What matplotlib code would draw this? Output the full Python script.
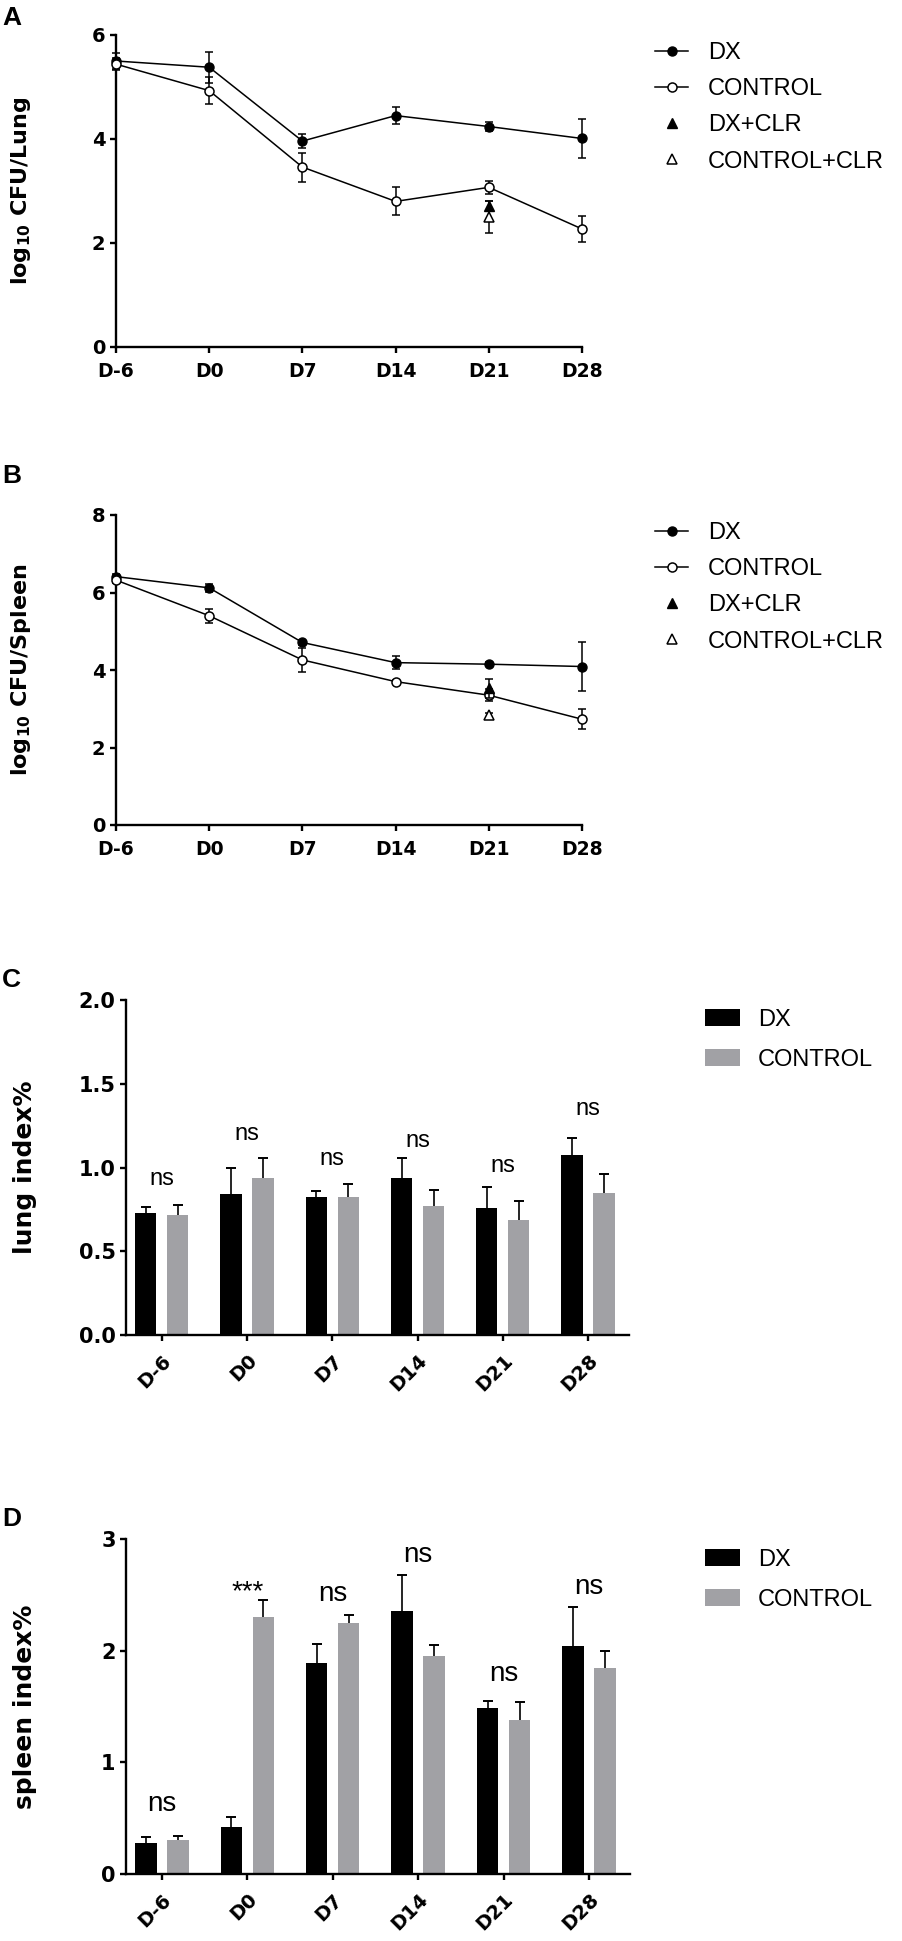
import matplotlib
matplotlib.use('Agg')
import matplotlib.pyplot as plt
import numpy as np
from matplotlib.lines import Line2D
from matplotlib.patches import Patch

plt.rcParams['font.family'] = ['Liberation Sans', 'DejaVu Sans']
plt.rcParams['mathtext.fontset'] = 'custom'
plt.rcParams['mathtext.rm'] = 'DejaVu Sans:bold'
plt.rcParams['mathtext.default'] = 'rm'

# ---------------- data ----------------
days = ['D-6', 'D0', 'D7', 'D14', 'D21', 'D28']

lung_dx = [5.50, 5.38, 3.96, 4.45, 4.24, 4.01]
lung_dx_err = [0.15, 0.30, 0.13, 0.16, 0.08, 0.38]
lung_ctrl = [5.44, 4.93, 3.46, 2.80, 3.07, 2.27]
lung_ctrl_err = [0.12, 0.26, 0.28, 0.27, 0.12, 0.25]
clr_day = ['D21']
lung_dxclr = [2.72]
lung_dxclr_err = [0.08]
lung_ctrlclr = [2.50]
lung_ctrlclr_err = [0.30]

spleen_dx = [6.41, 6.12, 4.71, 4.19, 4.15, 4.09]
spleen_dx_err = [0.08, 0.10, 0.06, 0.17, 0.05, 0.62]
spleen_ctrl = [6.32, 5.40, 4.26, 3.70, 3.35, 2.73]
spleen_ctrl_err = [0.08, 0.18, 0.30, 0.05, 0.15, 0.26]
spleen_dxclr = [3.53]
spleen_dxclr_err = [0.25]
spleen_ctrlclr = [2.84]
spleen_ctrlclr_err = [0.06]

lung_idx_dx = [0.729, 0.842, 0.826, 0.936, 0.759, 1.076]
lung_idx_dx_err = [0.034, 0.156, 0.032, 0.122, 0.127, 0.102]
lung_idx_ctrl = [0.717, 0.940, 0.826, 0.772, 0.684, 0.846]
lung_idx_ctrl_err = [0.061, 0.118, 0.076, 0.096, 0.114, 0.116]
lung_sig = ['ns', 'ns', 'ns', 'ns', 'ns', 'ns']
lung_sig_y = [0.934, 1.20, 1.05, 1.156, 1.01, 1.35]

spleen_idx_dx = [0.279, 0.417, 1.89, 2.357, 1.49, 2.04]
spleen_idx_dx_err = [0.055, 0.093, 0.17, 0.323, 0.056, 0.35]
spleen_idx_ctrl = [0.301, 2.303, 2.248, 1.954, 1.376, 1.848]
spleen_idx_ctrl_err = [0.042, 0.153, 0.07, 0.096, 0.16, 0.153]
spleen_sig = ['ns', '***', 'ns', 'ns', 'ns', 'ns']
spleen_sig_y = [0.63, 2.52, 2.504, 2.856, 1.795, 2.57]

GREY = '#a1a1a5'
W, H = 902, 1941
TICKFONT = 'DejaVu Sans'

fig = plt.figure(figsize=(W / 100, H / 100), dpi=100)


def rect(x0, x1, ytop, ybot):
    return [x0 / W, 1 - ybot / H, (x1 - x0) / W, (ybot - ytop) / H]


def style_axes(ax, ysize, xsize):
    for s in ['top', 'right']:
        ax.spines[s].set_visible(False)
    for s in ['left', 'bottom']:
        ax.spines[s].set_linewidth(1.7)
    ax.tick_params(axis='both', which='major', length=4.5, width=1.7, direction='out')
    ax.tick_params(axis='y', pad=3)
    for lab in ax.get_yticklabels():
        lab.set_fontweight('bold')
        lab.set_fontfamily(TICKFONT)
        lab.set_fontsize(ysize)
    for lab in ax.get_xticklabels():
        lab.set_fontweight('bold')
        lab.set_fontfamily(TICKFONT)
        lab.set_fontsize(xsize)


MS = 6.5
CAP = 3.2
LW = 1.1


def line_panel(ax, dx, dxe, ct, cte, cdx, cdxe, cct, ccte, ymax, yticks, ylabel):
    x = np.arange(len(days))
    xc = np.array([days.index(d) for d in clr_day])
    ax.errorbar(x, dx, yerr=dxe, color='k', marker='o', ms=MS, mfc='k', mec='k',
                lw=LW, elinewidth=LW, capsize=CAP, capthick=LW, clip_on=False, zorder=3)
    ax.errorbar(x, ct, yerr=cte, color='k', marker='o', ms=MS, mfc='white', mec='k',
                mew=1.1, lw=LW, elinewidth=LW, capsize=CAP, capthick=LW, clip_on=False, zorder=3)
    ax.errorbar(xc, cct, yerr=ccte, color='k', marker='^', ms=MS, mfc='white', mec='k',
                mew=1.1, ls='none', elinewidth=LW, capsize=CAP, capthick=LW, zorder=4)
    ax.errorbar(xc, cdx, yerr=cdxe, color='k', marker='^', ms=MS, mfc='k', mec='k',
                ls='none', elinewidth=LW, capsize=CAP, capthick=LW, zorder=5)
    ax.set_xlim(0, len(days) - 1)
    ax.set_ylim(0, ymax)
    ax.set_yticks(yticks)
    ax.set_xticks(x)
    ax.set_xticklabels(days)
    style_axes(ax, 14, 13.5)
    ax.tick_params(axis='x', pad=6)
    ax.set_ylabel(ylabel, fontsize=16, fontweight='bold', fontfamily=TICKFONT)
    ax.yaxis.set_label_coords(-0.178, 0.5)


def bar_panel(ax, dx, dxe, ct, cte, sig, sigy, ymax, yticks, yticklabels, ylabel, sigsize):
    x = np.arange(len(days))
    off, bw = 0.1875, 0.25
    for xs, vals, errs, col in [(x - off, dx, dxe, 'k'), (x + off, ct, cte, GREY)]:
        ax.bar(xs, vals, width=bw, color=col, edgecolor='none', zorder=2)
        tops = np.array(vals) + np.array(errs)
        ax.errorbar(xs, vals, yerr=[np.zeros(len(vals)), errs], fmt='none', ecolor='k',
                    elinewidth=1.2, capsize=0, zorder=1)
        ax.plot(xs, tops, ls='none', marker='_', ms=7, mew=1.4, color='k', zorder=1)
    for xi, s, yy in zip(x, sig, sigy):
        ax.text(xi, yy, s, ha='center', va='center', fontsize=sigsize)
    ax.set_xlim(-0.42, 5.48)
    ax.set_ylim(0, ymax)
    ax.set_yticks(yticks)
    ax.set_yticklabels(yticklabels)
    ax.set_xticks(x)
    ax.set_xticklabels(days, rotation=45, ha='right', va='top', rotation_mode='anchor')
    style_axes(ax, 15, 14)
    ax.tick_params(axis='x', pad=7)
    ax.set_ylabel(ylabel, fontsize=18, fontweight='bold', fontfamily=TICKFONT)
    ax.yaxis.set_label_coords(-0.177, 0.5)


axA = fig.add_axes(rect(116, 582, 35, 347))
line_panel(axA, lung_dx, lung_dx_err, lung_ctrl, lung_ctrl_err, lung_dxclr, lung_dxclr_err,
           lung_ctrlclr, lung_ctrlclr_err, 6, [0, 2, 4, 6], r'log$_{10}$ CFU/Lung')

axB = fig.add_axes(rect(116, 582, 515, 825))
line_panel(axB, spleen_dx, spleen_dx_err, spleen_ctrl, spleen_ctrl_err, spleen_dxclr,
           spleen_dxclr_err, spleen_ctrlclr, spleen_ctrlclr_err, 8, [0, 2, 4, 6, 8],
           r'log$_{10}$ CFU/Spleen')

axC = fig.add_axes(rect(126, 629, 1000, 1335))
bar_panel(axC, lung_idx_dx, lung_idx_dx_err, lung_idx_ctrl, lung_idx_ctrl_err, lung_sig,
          lung_sig_y, 2.0, [0, 0.5, 1.0, 1.5, 2.0], ['0.0', '0.5', '1.0', '1.5', '2.0'],
          'lung index%', 17)

axD = fig.add_axes(rect(126, 630, 1539, 1874))
bar_panel(axD, spleen_idx_dx, spleen_idx_dx_err, spleen_idx_ctrl, spleen_idx_ctrl_err,
          spleen_sig, spleen_sig_y, 3, [0, 1, 2, 3], ['0', '1', '2', '3'],
          'spleen index%', 20)

# legends
line_handles = [
    Line2D([], [], color='k', marker='o', ms=MS, mfc='k', lw=LW),
    Line2D([], [], color='k', marker='o', ms=MS, mfc='white', mew=1.1, lw=LW),
    Line2D([], [], color='k', marker='^', ms=MS, mfc='k', ls='none'),
    Line2D([], [], color='k', marker='^', ms=MS, mfc='white', mew=1.1, ls='none'),
]
line_labels = ['DX', 'CONTROL', 'DX+CLR', 'CONTROL+CLR']
for ytop in [42, 522]:
    fig.legend(line_handles, line_labels, loc='upper left',
               bbox_to_anchor=(655 / W, 1 - ytop / H), frameon=False, fontsize=17,
               handlelength=1.4, handletextpad=0.85, labelspacing=0.6,
               borderpad=0, borderaxespad=0)

bar_handles = [Patch(facecolor='k', edgecolor='none'), Patch(facecolor=GREY, edgecolor='none')]
for ytop in [1009, 1549]:
    fig.legend(bar_handles, ['DX', 'CONTROL'], loc='upper left',
               bbox_to_anchor=(705 / W, 1 - ytop / H), frameon=False, fontsize=17,
               handlelength=1.48, handleheight=0.76, handletextpad=0.76, labelspacing=0.75,
               borderpad=0, borderaxespad=0)

# panel letters
for letter, yb in [('A', 25), ('B', 483), ('C', 987), ('D', 1526)]:
    fig.text(2 / W, 1 - yb / H, letter, fontsize=19, fontweight='bold', ha='left', va='baseline')

fig.savefig('out.png', dpi=100)
